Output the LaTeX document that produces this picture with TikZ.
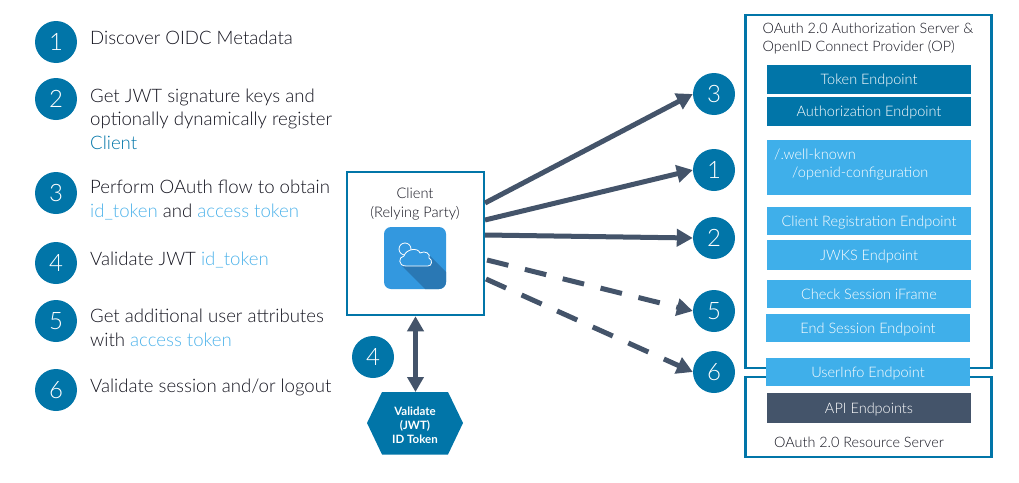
\documentclass[tikz,border=0pt]{standalone}
\usepackage{fontspec}
\usetikzlibrary{arrows.meta}
\setmainfont{Lato}[UprightFont=* Light,BoldFont=* Bold]
\definecolor{tealblue}{HTML}{0175A8}
\definecolor{skyblue}{HTML}{3FAFEA}
\definecolor{slate}{HTML}{44546A}
\definecolor{inktext}{HTML}{14141F}
\definecolor{linktext}{HTML}{4FB3EA}
\definecolor{iconblue}{HTML}{3398DF}
\definecolor{iconshade}{HTML}{2A78B4}
\begin{document}
\begin{tikzpicture}[x=1pt,y=-1pt]
\tikzstyle{num_style} = [circle, fill=tealblue, text=white, minimum size=42pt, inner sep=0pt, font=\fontsize{24}{24}\selectfont]
\tikzstyle{step_style} = [anchor=west, align=left, inner sep=0pt, text=inktext, font=\fontsize{18.6}{23.5}\selectfont]
\tikzstyle{box_style} = [draw=tealblue, line width=2.5pt, fill=white, inner sep=0pt]
\tikzstyle{bar_style} = [minimum width=204pt, inner sep=0pt, text=white, text depth=0pt, font=\fontsize{14.5}{17.5}\selectfont]
\tikzstyle{label_style} = [inner sep=0pt, align=left, text=inktext, font=\fontsize{14.4}{18}\selectfont]
\tikzstyle{edge_style} = [slate, line width=5pt, -{Triangle[length=16pt,width=17pt]}]
\tikzstyle{dash_style} = [edge_style, dash pattern=on 22pt off 17pt]
    \useasboundingbox (0,0) rectangle (1019,482);

    % steps on the left
    \node[num_style] (n1) at (56,42) {1};
    \node[num_style] (n2) at (56,99) {2};
    \node[num_style] (n3) at (56,193) {3};
    \node[num_style] (n4) at (56,263) {4};
    \node[num_style] (n5) at (56,321) {5};
    \node[num_style] (n6) at (56,390) {6};

    \node[step_style] (s1) at (90,38) {Discover OIDC Metadata};
    \node[step_style] (s2) at (90,119) {Get JWT signature keys and\\optionally dynamically register\\\textcolor{tealblue}{Client}};
    \node[step_style] (s3) at (90,200) {Perform OAuth flow to obtain\\\textcolor{linktext}{id\_token} and \textcolor{linktext}{access token}};
    \node[step_style] (s4) at (90,260) {Validate JWT \textcolor{linktext}{id\_token}};
    \node[step_style] (s5) at (90,328) {Get additional user attributes\\with \textcolor{linktext}{access token}};
    \node[step_style] (s6) at (90,387) {Validate session and/or logout};

    % client
    \node[box_style, minimum width=137pt, minimum height=143pt] (client) at (415.5,243.5) {};
    \node[inner sep=0pt, align=center, text=inktext, font=\fontsize{14.6}{19}\selectfont] (clientname) at (415,204) {Client\\(Relying Party)};
    \node[fill=iconblue, rounded corners=7pt, minimum size=62pt, inner sep=0pt] (icon) at (415,258) {};
    \begin{scope}
        \clip[rounded corners=7pt] (384,227) rectangle (446,289);
        \fill[iconshade] (402,266) -- (430,256) -- (460,286) -- (446,304) -- (440,304) -- cycle;
    \end{scope}
    \draw[white, line width=0.8pt] (405,249) circle (6);
    \draw[white, line width=0.8pt, fill=iconblue] (406,266) .. controls (398,266) and (398,257) .. (404,256) .. controls (406,249) and (418,247) .. (420,253) .. controls (425,250) and (431,254) .. (429,258) .. controls (433,260) and (432,266) .. (428,266) -- cycle;

    % hexagon
    \fill[tealblue] (367,423) -- (382,392) -- (448,392) -- (463,423) -- (448,454.5) -- (382,454.5) -- cycle;
    \node[inner sep=0pt, align=center, text=white, font=\bfseries\fontsize{11.5}{14}\selectfont] (validate) at (415,425) {Validate\\(JWT)\\ID Token};
    \coordinate (hextop) at (415.5,392);
    \node[num_style] (m4) at (373,357) {4};
    \draw[slate, line width=5pt, {Triangle[length=15pt,width=16pt]}-{Triangle[length=15pt,width=16pt]}] (client.south) -- (hextop);

    % servers
    \node[box_style, minimum width=246pt, minimum height=353pt] (authbox) at (868.5,191.5) {};
    \node[box_style, minimum width=246pt, minimum height=80pt] (resbox) at (868.5,417) {};
    \node[label_style] (authname) at (868,39) {OAuth 2.0 Authorization Server \&\\OpenID Connect Provider (OP)};
    \node[label_style, anchor=west] (resname) at (774,442) {OAuth 2.0 Resource Server};

    \node[bar_style, fill=tealblue, minimum height=29.5pt] (b1) at (869,79.5) {Token Endpoint};
    \node[bar_style, fill=tealblue, minimum height=29pt] (b2) at (869,111.5) {Authorization Endpoint};
    \node[bar_style, fill=skyblue, minimum height=55pt] (b3) at (869,167.5) {};
    \node[bar_style, anchor=west, align=left, minimum width=0pt] (b3text) at (774,163) {/.well-known\\\hspace{18pt}/openid-configuration};
    \node[bar_style, fill=skyblue, minimum height=28pt] (b4) at (869,221) {Client Registration Endpoint};
    \node[bar_style, fill=skyblue, minimum height=30pt] (b5) at (869,255) {JWKS Endpoint};
    \node[bar_style, fill=skyblue, minimum height=28pt] (b6) at (869,294) {Check Session iFrame};
    \node[bar_style, fill=skyblue, minimum height=28pt] (b7) at (868,328) {End Session Endpoint};
    \node[bar_style, fill=skyblue, minimum height=28pt] (b8) at (868,372) {UserInfo Endpoint};
    \node[bar_style, fill=slate, minimum height=30pt] (b9) at (869,408) {API Endpoints};

    % flows
    \node[num_style] (r3) at (714,94) {3};
    \node[num_style] (r1) at (714,170) {1};
    \node[num_style] (r2) at (714,238) {2};
    \node[num_style] (r5) at (714,311) {5};
    \node[num_style] (r6) at (714,372) {6};

    \coordinate (c3) at (485,203);
    \coordinate (c1) at (485,220);
    \coordinate (c2) at (485,235);
    \coordinate (c5) at (487,260);
    \coordinate (c6) at (486,279);

    \draw[edge_style] (c3) -- (r3.west);
    \draw[edge_style] (c1) -- (r1.west);
    \draw[edge_style] (c2) -- (r2.west);
    \draw[dash_style] (c5) -- (r5.west);
    \draw[dash_style] (c6) -- (r6.west);
\end{tikzpicture}
\end{document}
